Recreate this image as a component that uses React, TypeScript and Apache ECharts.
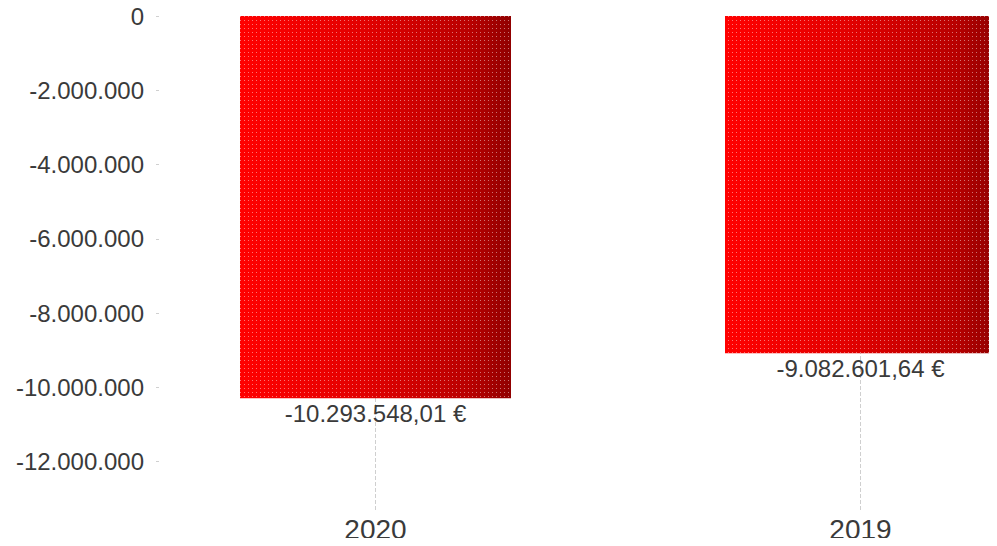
import React, { useEffect, useRef } from "react";
import * as echarts from "echarts";

const categories = ["2020", "2019"];
const values = [-10293548.01, -9082601.64];
const yTicks = [0, -2000000, -4000000, -6000000, -8000000, -10000000, -12000000];
const yMin = -13300000;
const yMax = 0;

const FONT = "'Liberation Sans', Arial, Helvetica, sans-serif";
const TEXT = "#3a3a3a";

function groupThousands(intPart: string): string {
  return intPart.replace(/\B(?=(\d{3})+(?!\d))/g, ".");
}

function formatInt(v: number): string {
  const neg = v < 0;
  const s = groupThousands(Math.round(Math.abs(v)).toString());
  return (neg ? "-" : "") + s;
}

function formatEuro(v: number): string {
  const neg = v < 0;
  const fixed = Math.abs(v).toFixed(2);
  const [i, d] = fixed.split(".");
  return (neg ? "-" : "") + groupThousands(i) + "," + d + " €";
}

export default function App() {
  const ref = useRef<HTMLDivElement>(null);

  useEffect(() => {
    if (!ref.current) return;
    const chart = echarts.init(ref.current, undefined, { renderer: "svg" });
    chart.setOption({
      animation: false,
      grid: { left: 133, top: 16, right: 0, height: 494, containLabel: false },
      xAxis: {
        type: "category",
        data: categories,
        axisLine: { show: false, onZero: false },
        axisTick: {
          show: true,
          alignWithLabel: true,
          inside: true,
          length: 494,
          lineStyle: { color: "#cfcfcf", type: "dashed", width: 1 },
        },
        splitLine: { show: false },
        axisLabel: { fontSize: 28, color: TEXT, fontFamily: FONT, margin: 5 },
      },
      yAxis: {
        type: "value",
        min: yMin,
        max: yMax,
        offset: -26,
        axisLine: { show: false },
        axisTick: {
          show: true,
          length: 3,
          customValues: yTicks,
          lineStyle: { color: "#d0d0d0" },
        },
        splitLine: { show: false },
        axisLabel: {
          customValues: yTicks,
          fontSize: 24,
          color: TEXT,
          fontFamily: FONT,
          margin: 15,
          formatter: (v: number) => formatInt(v),
        },
      },
      series: [
        {
          type: "bar",
          data: values,
          barWidth: 271,
          itemStyle: {
            color: new echarts.graphic.LinearGradient(0, 0, 1, 0, [
              { offset: 0, color: "#ff0000" },
              { offset: 0.45, color: "#e20000" },
              { offset: 0.85, color: "#b80000" },
              { offset: 1, color: "#900000" },
            ]),
            decal: {
              symbol: "rect",
              symbolSize: 1,
              dashArrayX: [1, 3],
              dashArrayY: [1, 3],
              color: "rgba(255,255,255,0.45)",
              rotation: 0,
            },
          },
          label: {
            show: true,
            position: "bottom",
            distance: 3,
            fontSize: 24,
            color: TEXT,
            fontFamily: FONT,
            formatter: (p: any) => formatEuro(p.value),
          },
        },
      ],
    });
    return () => chart.dispose();
  }, []);

  return (
    <div style={{ width: 997, height: 546, overflow: "hidden", margin: -8, position: "relative" }}>
      <div ref={ref} style={{ width: 1103, height: 546 }} />
    </div>
  );
}
